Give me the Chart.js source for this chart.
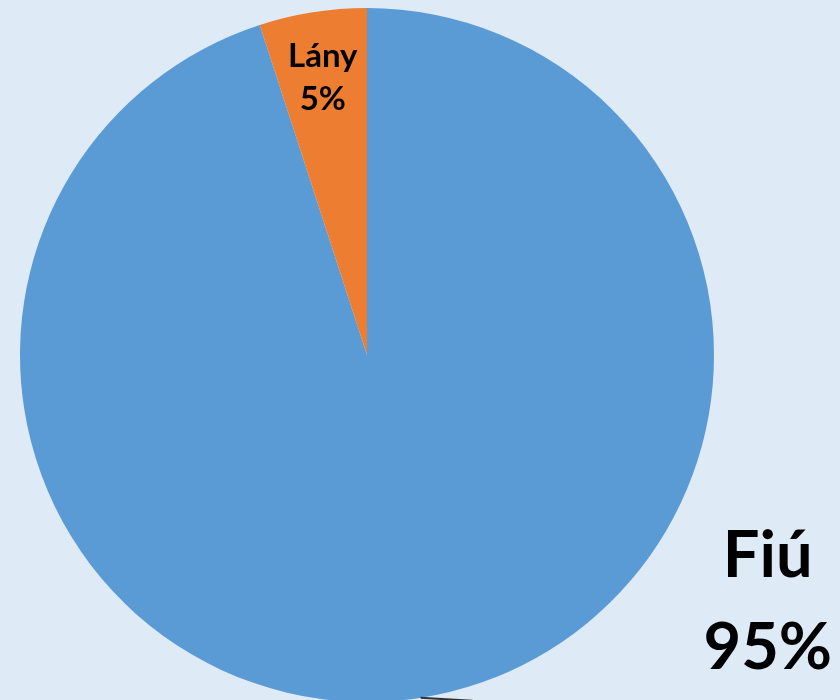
<!DOCTYPE html>
<html>
<head>
<meta charset="utf-8">
<script src="https://cdn.jsdelivr.net/npm/chart.js@4.4.1/dist/chart.umd.min.js"></script>
<style>
  html, body { margin: 0; padding: 0; background: #deeaf6; }
  #wrap { width: 840px; height: 700px; position: relative; }
</style>
</head>
<body>
<div id="wrap"><canvas id="pieChart" width="840" height="700"></canvas></div>
<script>
const labels = ["Fiú", "Lány"];
const values = [95, 5];
const colors = ["#5b9bd5", "#ed7d31"];

const FONT = "Lato, 'Open Sans', sans-serif";

// labels drawn by hand: Lány inside its slice, Fiú outside with a short leader
const sliceLabels = {
  id: "sliceLabels",
  afterDatasetsDraw(chart) {
    const ctx = chart.ctx;
    const arcs = chart.getDatasetMeta(0).data;
    const total = values.reduce((a, b) => a + b, 0);
    ctx.save();
    ctx.fillStyle = "#000";
    ctx.textAlign = "center";
    ctx.textBaseline = "alphabetic";

    // Lány (small slice) inside
    const a1 = arcs[1];
    const mid1 = (a1.startAngle + a1.endAngle) / 2;
    const r1 = a1.outerRadius * 0.815;
    const x1 = a1.x + Math.cos(mid1) * r1;
    const y1 = a1.y + Math.sin(mid1) * r1;
    ctx.font = `bold 33px ${FONT}`;
    ctx.fillText(labels[1], x1, y1 - 9);
    ctx.fillText(`${Math.round(values[1] / total * 100)}%`, x1, y1 + 34);

    // Fiú outside, right-bottom
    const a0 = arcs[0];
    const fx = a0.x + a0.outerRadius * 1.155;
    const fy = a0.y + a0.outerRadius * 0.645;
    ctx.font = `bold 65px ${FONT}`;
    ctx.fillText(labels[0], fx, fy - 2);
    ctx.fillText(`${Math.round(values[0] / total * 100)}%`, fx, fy + 90);

    // leader line peeking at the bottom edge
    const la = Math.PI / 2 - 0.155;
    const lx = a0.x + Math.cos(la) * a0.outerRadius;
    const ly = a0.y + Math.sin(la) * a0.outerRadius;
    ctx.strokeStyle = "#333";
    ctx.lineWidth = 2;
    ctx.beginPath();
    ctx.moveTo(lx, ly);
    ctx.lineTo(lx + 52, ly + 3);
    ctx.stroke();
    ctx.restore();
  },
};

new Chart(document.getElementById("pieChart").getContext("2d"), {
  type: "pie",
  data: {
    labels: labels,
    datasets: [
      {
        data: values,
        backgroundColor: colors,
        borderWidth: 0,
        radius: 347,
      },
    ],
  },
  options: {
    responsive: false,
    animation: false,
    layout: { padding: { left: 20, right: 126, top: 10, bottom: 0 } },
    plugins: {
      legend: { display: false },
      tooltip: { enabled: false },
    },
  },
  plugins: [sliceLabels],
});
</script>
</body>
</html>
